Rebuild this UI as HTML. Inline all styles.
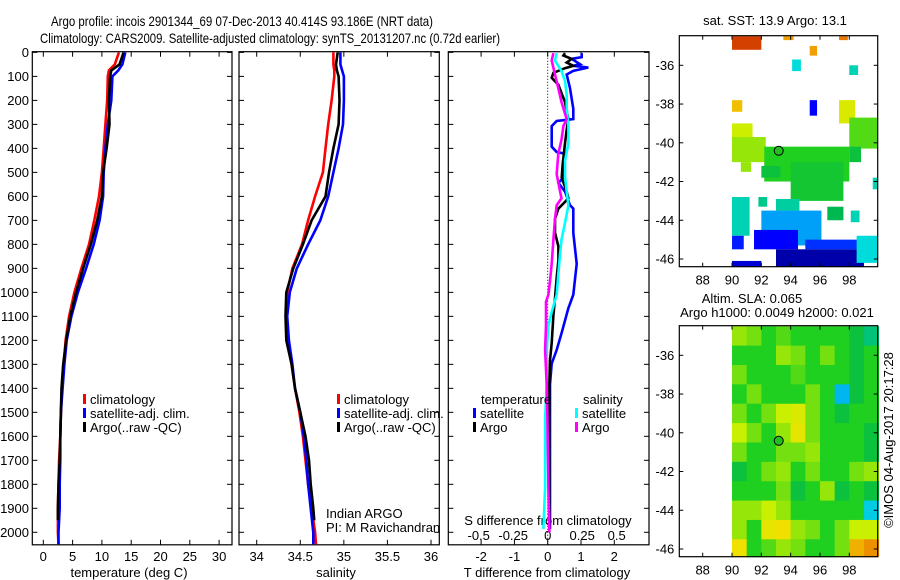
<!DOCTYPE html>
<html><head><meta charset="utf-8">
<style>
html,body{margin:0;padding:0;background:#fff;}
svg{display:block;font-family:"Liberation Sans",sans-serif;}
text{font-size:13px;fill:#000;}
</style></head>
<body>
<svg id="chart" width="900" height="580" viewBox="0 0 900 580" xmlns="http://www.w3.org/2000/svg">
<text x="51" y="26" textLength="382" lengthAdjust="spacingAndGlyphs" style="font-size:14px">Argo profile: incois 2901344_69 07-Dec-2013 40.414S 93.186E (NRT data)</text>
<text x="40" y="43" textLength="460" lengthAdjust="spacingAndGlyphs" style="font-size:14px">Climatology: CARS2009. Satellite-adjusted climatology: synTS_20131207.nc (0.72d earlier)</text>
<g id="p1"></g>
<g id="p2"></g>
<g id="p3"></g>
<g id="m1"></g>
<g id="m2"></g>
<text x="775" y="25" text-anchor="middle">sat. SST: 13.9 Argo: 13.1</text>
<text x="752" y="303" text-anchor="middle">Altim. SLA: 0.065</text>
<text x="777" y="317" text-anchor="middle">Argo h1000: 0.0049 h2000: 0.021</text>
<text transform="translate(893,440) rotate(-90)" text-anchor="middle">©IMOS 04-Aug-2017 20:17:28</text>
</svg>
<script>
// ---------- data ----------
const tDepth = [0,50,75,100,200,300,400,500,600,700,800,900,1000,1100,1200,1300,1400,1500,1600,1700,1800,1900,2000,2050];
const tClim  = [12.9,12.2,11.2,11.0,10.9,10.6,10.3,10.0,9.5,8.7,7.8,6.5,5.3,4.4,3.8,3.5,3.2,3.0,2.9,2.7,2.6,2.5,2.5,2.6];
const tSat   = [14.0,13.5,12.8,11.8,11.6,11.0,10.6,10.3,10.2,9.6,8.6,7.3,5.9,4.8,4.0,3.6,3.3,3.0,2.9,2.9,2.8,2.8,2.6,2.6];
const argoDepth = [0,50,75,100,200,300,400,500,600,700,800,900,1000,1100,1200,1300,1400,1500,1600,1700,1800,1900,1950];
const tArgo  = [13.7,13.0,11.6,11.4,11.2,11.3,10.8,10.2,10.0,9.2,8.1,6.8,5.6,4.6,3.9,3.4,3.1,3.0,2.9,2.8,2.6,2.5,2.5];
const sClim  = [34.88,34.88,34.89,34.89,34.86,34.82,34.79,34.76,34.67,34.59,34.52,34.41,34.35,34.34,34.36,34.40,34.44,34.49,34.53,34.56,34.59,34.63,34.67,34.68];
const sSat   = [34.96,34.96,34.98,35.0,35.0,34.99,34.94,34.88,34.82,34.73,34.59,34.46,34.38,34.35,34.37,34.41,34.44,34.50,34.54,34.57,34.59,34.62,34.65,34.65];
const sArgo  = [34.93,34.91,34.92,34.94,34.95,34.94,34.88,34.83,34.79,34.63,34.53,34.42,34.34,34.33,34.34,34.40,34.44,34.50,34.56,34.60,34.62,34.65,34.66];
const dtSatDepth = [3,20,27,49,56,63,77,92,149,235,278,286,307,393,415,422,465,522,544,580,637,651,752,881,1010,1067,1168,1240,1297,1383,1986];
const dtSat = [1.02,1.02,0.72,0.97,0.77,1.22,0.77,0.57,0.67,0.77,0.77,0.27,0.12,0.12,0.27,0.52,0.47,0.47,0.32,0.52,0.67,0.77,0.77,0.87,0.77,0.62,0.42,0.27,0.12,0.07,0.07];
const dtArgoDepth = [3,13,27,42,56,66,85,106,135,207,278,321,379,465,522,580,608,623,651,694,752,809,867,938,1024,1096,1211,1283,1383,1986];
const dtArgo = [0.52,0.47,0.72,0.57,0.77,0.52,0.17,0.12,0.32,0.52,0.62,0.57,0.52,0.45,0.42,0.57,0.62,0.52,0.32,0.22,0.22,0.32,0.32,0.27,0.22,0.17,0.12,0.07,0.05,0.05];
const dsSatDepth = [3,34,77,121,178,235,307,379,450,522,580,637,709,780,838,924,1010,1082,1139,1240,1383,1527,1813,1986];
const dsSat = [0.065,0.053,0.10,0.126,0.138,0.138,0.15,0.15,0.126,0.126,0.138,0.15,0.126,0.10,0.09,0.077,0.065,0.029,0.005,-0.007,-0.007,-0.019,-0.019,-0.031];
const dsArgoDepth = [3,34,92,149,207,278,307,364,422,508,580,608,637,694,780,881,953,1010,1039,1139,1240,1383,1527,1813,2000];
const dsArgo = [0.041,0.029,0.053,0.077,0.10,0.138,0.114,0.10,0.077,0.065,0.09,0.10,0.065,0.053,0.041,0.029,0.017,0.005,-0.012,-0.012,-0.019,-0.007,-0.002,0.005,0.012];
const depthTicks = [0,100,200,300,400,500,600,700,800,900,1000,1100,1200,1300,1400,1500,1600,1700,1800,1900,2000];
const tTicks = [0,5,10,15,20,25,30];
const sTicks = [34,34.5,35,35.5,36];
const dTTicks = [-2,-1,0,1,2];
const dSTicks = [-0.5,-0.25,0,0.25,0.5];
const lonTicks = [88,90,92,94,96,98];
const latTicks = [-36,-38,-40,-42,-44,-46];
// SST patches: lon0, lon1, latTop, latBottom, value
const sstLon0 = [90,93.5,95.3,97.3,94.1,98,90,95.3,97.3,90,90,98,92.2,94,98,99.6,90,91.8,93,92,96.5,98.1,91.5,95,93,90,98.5,90,90.6,92];
const sstLon1 = [92,94.2,95.8,97.9,94.7,98.6,90.7,95.8,98.4,91.4,92.3,99.9,98,97.6,98.8,99.9,91.2,92.4,94.6,96.1,97.6,98.7,94.5,99,99,92,99.9,90.8,91.3,93.3];
const sstLatT = [-34.5,-34.5,-35,-34.5,-35.7,-36,-37.8,-37.8,-37.8,-39,-39.7,-38.7,-40.2,-41,-40.2,-41.8,-42.8,-42.8,-42.9,-43.5,-43.3,-43.5,-44.5,-45,-45.5,-46.1,-44.8,-44.8,-41,-41.2];
const sstLatB = [-35.2,-34.7,-35.5,-34.7,-36.3,-36.5,-38.4,-38.6,-39,-40.3,-41,-40.3,-42,-43,-41,-42.4,-44.8,-43.3,-43.5,-45.3,-44,-44.1,-45.5,-45.5,-46.4,-46.4,-46.2,-45.5,-41.5,-41.8];
const sstVal  = [0.92,0.8,0.8,0.85,0.4,0.42,0.76,0.15,0.68,0.66,0.62,0.58,0.55,0.52,0.5,0.42,0.42,0.44,0.43,0.32,0.47,0.42,0.15,0.2,0.05,0.1,0.4,0.18,0.62,0.5];
// SLA 1-degree grid, rows lat -34.5..-46.5, cols lon 90..100
const slaRow0  = [0.62,0.60,0.55,0.58,0.55,0.55,0.55,0.55,0.50,0.45];
const slaRow1  = [0.55,0.55,0.55,0.62,0.60,0.55,0.60,0.55,0.50,0.55];
const slaRow2  = [0.60,0.55,0.55,0.55,0.58,0.55,0.55,0.55,0.50,0.55];
const slaRow3  = [0.55,0.60,0.55,0.55,0.55,0.60,0.55,0.35,0.50,0.55];
const slaRow4  = [0.60,0.55,0.60,0.65,0.68,0.60,0.55,0.50,0.55,0.55];
const slaRow5  = [0.65,0.60,0.55,0.62,0.70,0.60,0.55,0.55,0.55,0.50];
const slaRow6  = [0.60,0.55,0.55,0.60,0.60,0.62,0.55,0.55,0.55,0.50];
const slaRow7  = [0.50,0.55,0.60,0.62,0.55,0.60,0.55,0.55,0.60,0.62];
const slaRow8  = [0.55,0.55,0.55,0.60,0.50,0.55,0.62,0.50,0.55,0.50];
const slaRow9  = [0.62,0.62,0.65,0.62,0.55,0.55,0.55,0.55,0.55,0.38];
const slaRow10 = [0.62,0.55,0.70,0.72,0.62,0.60,0.55,0.60,0.65,0.65];
const slaRow11 = [0.72,0.55,0.58,0.62,0.60,0.55,0.55,0.60,0.78,0.82];
const slaRows = [slaRow0,slaRow1,slaRow2,slaRow3,slaRow4,slaRow5,slaRow6,slaRow7,slaRow8,slaRow9,slaRow10,slaRow11];
const argoLon = 93.186, argoLat = -40.414;

// ---------- helpers ----------
const NS='http://www.w3.org/2000/svg';
function mk(parent,tag,attrs,txt){const e=document.createElementNS(NS,tag);for(const k in attrs)e.setAttribute(k,attrs[k]);if(txt!==undefined)e.textContent=txt;parent.appendChild(e);return e;}
const yTop=51.7, yBot=544.8, d0=52.4, dPx=(532.3-52.4)/2000;
const yD=d=>d0+d*dPx;
const xT=v=>43.3+v*5.86;
const xS=v=>256.7+(v-34)*87.15;
const xDT=v=>547.7+v*33.3;
const xDS=v=>547.7+v*138;

function panel(g,x0,x1,name){
  const r=mk(g,'rect',{x:x0,y:yTop,width:x1-x0,height:yBot-yTop,fill:'none',stroke:'#000','stroke-width':1.2});
  
  
  depthTicks.forEach(d=>{
    mk(g,'line',{x1:x0,x2:x0+5,y1:yD(d),y2:yD(d),stroke:'#000'});
    mk(g,'line',{x1:x1,x2:x1-5,y1:yD(d),y2:yD(d),stroke:'#000'});
  });
}
function xticks(g,ticks,fx,labels,y){
  ticks.forEach((t,i)=>{
    mk(g,'line',{x1:fx(t),x2:fx(t),y1:yBot,y2:yBot-5,stroke:'#000'});
    mk(g,'line',{x1:fx(t),x2:fx(t),y1:yTop,y2:yTop+5,stroke:'#000'});
    if(labels){const tx=mk(g,'text',{x:fx(t),y:y,'text-anchor':'middle'},labels[i]);
      
      }
  });
}
function line(g,xs,ds,fx,color,name){
  const pts=xs.map((v,i)=>fx(v).toFixed(1)+','+yD(ds[i]).toFixed(1)).join(' ');
  const p=mk(g,'polyline',{points:pts,fill:'none',stroke:color,'stroke-width':2.6,'stroke-linejoin':'miter'});
  
  
}
function legend(g,x,y,items){
  items.forEach((it,i)=>{
    mk(g,'rect',{x:x,y:y+i*14-10,width:3,height:10,fill:it[0]});
    const t=mk(g,'text',{x:x+7,y:y+i*14},it[1]);
    
    
  });
}

// ---------- panel 1 ----------
const p1=document.getElementById('p1');
panel(p1,32.3,232,'temperature');
depthTicks.forEach(d=>{const t=mk(p1,'text',{x:29,y:yD(d)+4.5,'text-anchor':'end'},String(d));
  
  });
xticks(p1,tTicks,xT,tTicks.map(String),561);
line(p1,tClim,tDepth,xT,'#ff0000','temp-climatology-line');
line(p1,tSat,tDepth,xT,'#0000ff','temp-satellite-line');
line(p1,tArgo,argoDepth,xT,'#000000','temp-argo-line');
legend(p1,83,404,[['#f00','climatology'],['#00f','satellite-adj. clim.'],['#000','Argo(..raw -QC)']]);
const xl1=mk(p1,'text',{x:129,y:577,'text-anchor':'middle'},'temperature (deg C)');



// ---------- panel 2 ----------
const p2=document.getElementById('p2');
panel(p2,239,439.3,'salinity');
xticks(p2,sTicks,xS,['34','34.5','35','35.5','36'],561);
line(p2,sClim,tDepth,xS,'#ff0000','sal-climatology-line');
line(p2,sSat,tDepth,xS,'#0000ff','sal-satellite-line');
line(p2,sArgo,argoDepth,xS,'#000000','sal-argo-line');
legend(p2,337,404,[['#f00','climatology'],['#00f','satellite-adj. clim.'],['#000','Argo(..raw -QC)']]);
mk(p2,'text',{x:326,y:518},'Indian ARGO');
mk(p2,'text',{x:326,y:532},'PI: M Ravichandran');
const xl2=mk(p2,'text',{x:336,y:577,'text-anchor':'middle'},'salinity');



// ---------- panel 3 ----------
const p3=document.getElementById('p3');
panel(p3,448.3,649,'difference');
mk(p3,'line',{x1:xDT(0),x2:xDT(0),y1:yTop,y2:yBot,stroke:'#000','stroke-dasharray':'1,2'});
xticks(p3,dTTicks,xDT,['-2','-1','0','1','2'],561);
dSTicks.forEach(t=>{const tx=mk(p3,'text',{x:xDS(t),y:540,'text-anchor':'middle'},String(t));
  
  });
mk(p3,'text',{x:548,y:525,'text-anchor':'middle'},'S difference from climatology');
line(p3,dtSat,dtSatDepth,xDT,'#0000ff','t-diff-satellite-line');
line(p3,dtArgo,dtArgoDepth,xDT,'#000000','t-diff-argo-line');
line(p3,dsSat,dsSatDepth,xDS,'#00ffff','s-diff-satellite-line');
line(p3,dsArgo,dsArgoDepth,xDS,'#ff00ff','s-diff-argo-line');
mk(p3,'text',{x:481,y:404},'temperature');
mk(p3,'text',{x:583,y:404},'salinity');
legend(p3,473,418,[['#00f','satellite'],['#000','Argo']]);
legend(p3,575,418,[['#0ff','satellite'],['#f0f','Argo']]);
const xl3=mk(p3,'text',{x:547,y:577,'text-anchor':'middle'},'T difference from climatology');



// ---------- maps ----------
const cstops=[[0,[0,0,128]],[0.15,[0,0,255]],[0.3,[0,144,255]],[0.4,[0,220,220]],[0.47,[0,184,80]],[0.55,[32,208,32]],[0.65,[200,240,0]],[0.72,[240,224,0]],[0.8,[240,160,0]],[0.9,[224,80,0]],[1,[160,0,0]]];
function cmap(v){for(let i=1;i<cstops.length;i++){if(v<=cstops[i][0]){const a=cstops[i-1],b=cstops[i],f=(v-a[0])/(b[0]-a[0]);const c=a[1].map((x,k)=>Math.round(x+(b[1][k]-x)*f));return 'rgb('+c.join(',')+')';}}return 'rgb(160,0,0)';}
const mX0=679.3,mX1=877.7;
const lonX=l=>702.7+(l-88)*14.66;
function mapFrame(g,top,bot,latY,name){
  const r=mk(g,'rect',{x:mX0,y:top,width:mX1-mX0,height:bot-top,fill:'none',stroke:'#000','stroke-width':1.2});
  
  
  lonTicks.forEach(l=>{mk(g,'line',{x1:lonX(l),x2:lonX(l),y1:bot,y2:bot-4,stroke:'#000'});
    mk(g,'line',{x1:lonX(l),x2:lonX(l),y1:top,y2:top+4,stroke:'#000'});
    const t=mk(g,'text',{x:lonX(l),y:bot+18,'text-anchor':'middle'},String(l));
    
    });
  latTicks.forEach(l=>{mk(g,'line',{x1:mX0,x2:mX0+4,y1:latY(l),y2:latY(l),stroke:'#000'});
    mk(g,'line',{x1:mX1,x2:mX1-4,y1:latY(l),y2:latY(l),stroke:'#000'});
    const t=mk(g,'text',{x:mX0-5,y:latY(l)+4.5,'text-anchor':'end'},String(l));
    
    });
  const c=mk(g,'circle',{cx:lonX(argoLon),cy:latY(argoLat),r:4.5,fill:'#20c020',stroke:'#000','stroke-width':1});
  
  
}
const m1=document.getElementById('m1');
const lat1=l=>65.3+(-36-l)*19.37;
sstLon0.forEach((l0,i)=>{
  const r=mk(m1,'rect',{x:lonX(l0),y:lat1(sstLatT[i]),width:lonX(sstLon1[i])-lonX(l0),height:lat1(sstLatB[i])-lat1(sstLatT[i]),fill:cmap(sstVal[i])});
  
  
});
mapFrame(m1,35.7,266.7,lat1,'sst-map');
const m2=document.getElementById('m2');
const lat2=l=>355.3+(-36-l)*19.37;
slaRows.forEach((row,ri)=>{
  const la=-34.5-ri;
  row.forEach((v,ci)=>{
    const lo=90+ci;
    const yA=Math.max(lat2(la),325.7), yB=Math.min(lat2(la-1),556.7);
    const r=mk(m2,'rect',{x:lonX(lo),y:yA,width:lonX(lo+1)-lonX(lo)+0.5,height:yB-yA+0.5,fill:cmap(v)});
    
    
  });
});
mapFrame(m2,325.7,556.7,lat2,'sla-map');
</script>
</body></html>
